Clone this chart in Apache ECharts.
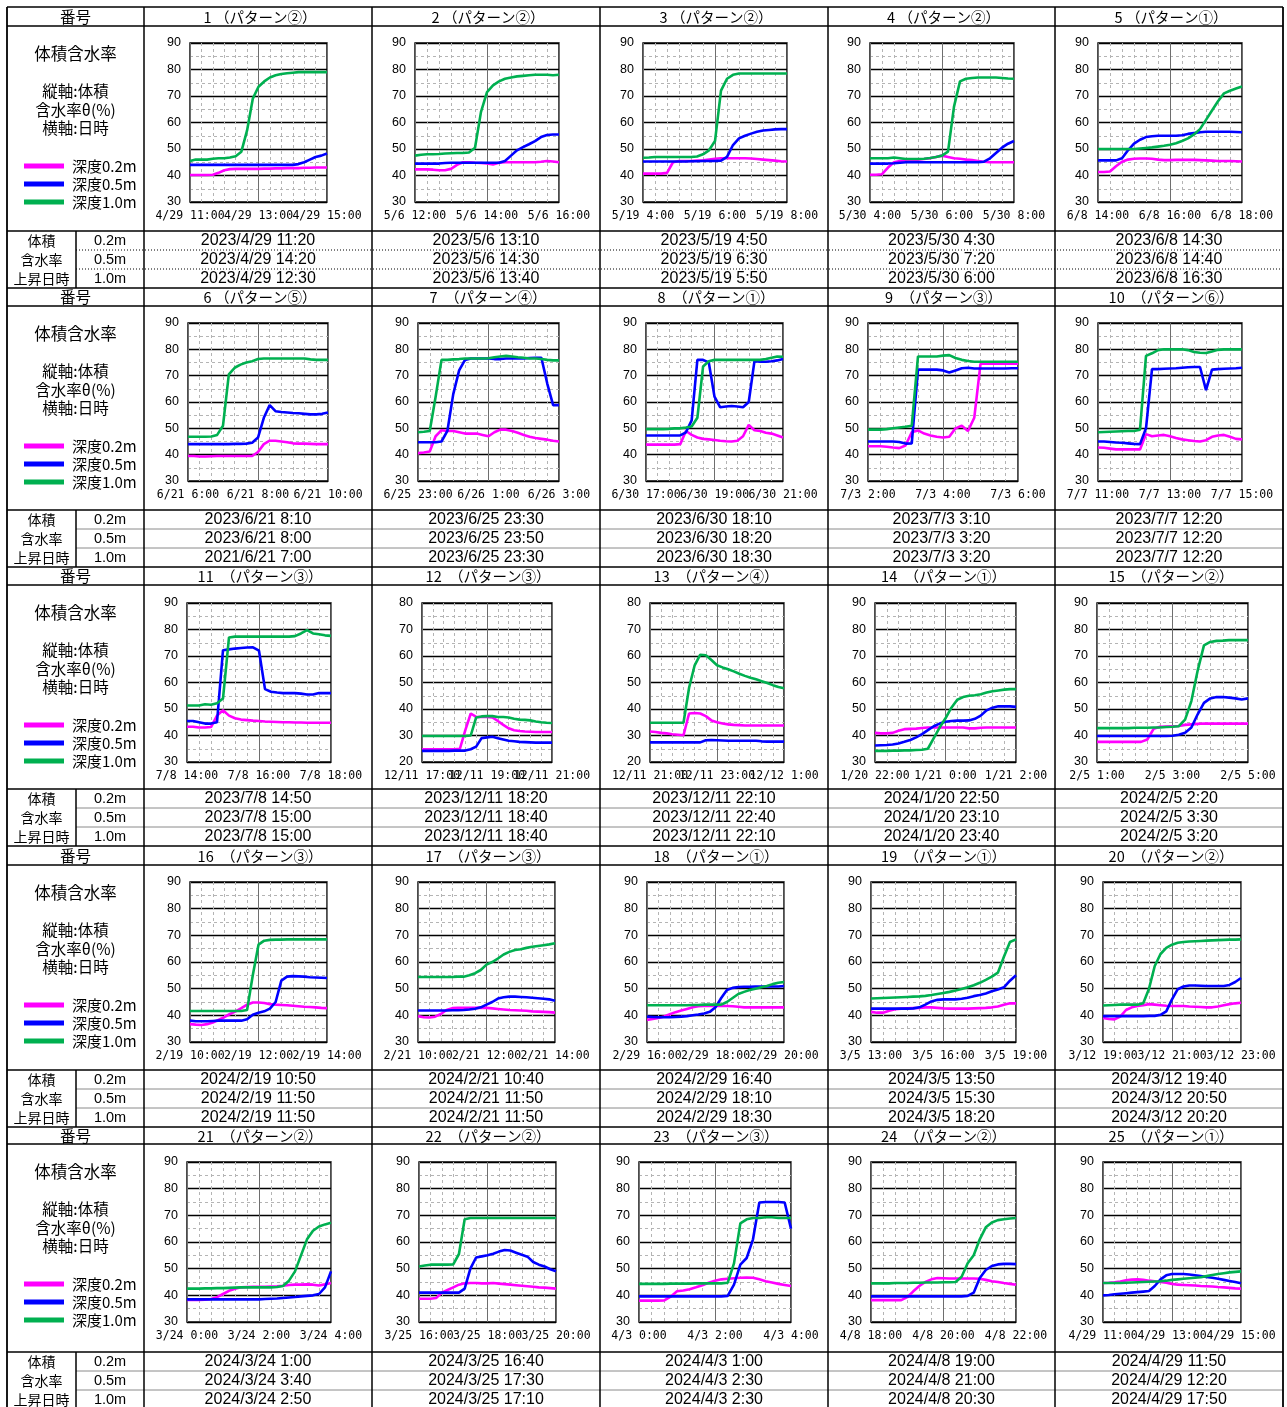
<!DOCTYPE html>
<html>
<head>
<meta charset="utf-8">
<script src="https://cdn.jsdelivr.net/npm/echarts@6/dist/echarts.min.js"></script>
<style>
  html, body { margin: 0; padding: 0; background: #fff; }
  #main { width: 1287px; height: 1407px; }
</style>
</head>
<body>
<div id="main"></div>
<script>
// 体積含水率 (10分 or 15分 間隔で読取り, 25点/グラフ)  _02:深度0.2m _05:深度0.5m _10:深度1.0m
const c01_02 = [40.2,40.2,40.2,40.2,40.3,41,42,42.4,42.5,42.5,42.5,42.5,42.5,42.6,42.6,42.7,42.7,42.8,42.8,42.8,42.9,42.9,43,43,43];
const c01_05 = [44,44,44,44,44,44,44,44,44,44,44,44,44,44,44,44,44,44,44,44.3,45,46,47,47.5,48.3];
const c01_10 = [45.5,46,46,46,46.3,46.5,46.5,46.8,47.3,49,57,69,73.5,75.5,77,77.8,78.3,78.6,78.8,79,79,79,79,79,79];
const c02_02 = [42.3,42.3,42.3,42.2,42,42,42.5,44,45,45,44.8,44.7,44.5,44.2,44.8,45,45,45,45,45,45,45.2,45.5,45.3,45];
const c02_05 = [44.5,44.5,44.5,44.5,44.5,44.7,44.8,44.8,44.8,44.8,44.8,44.8,44.8,44.8,44.8,45.5,47.5,49.5,50.7,51.8,53,54.5,55.3,55.5,55.5];
const c02_10 = [47.5,47.8,48,48,48.1,48.3,48.4,48.5,48.5,48.7,50.5,64,71.5,74,75.5,76.5,77,77.4,77.6,77.8,78,78,78,77.8,78];
const c03_02 = [40.7,40.7,40.7,40.7,41,45,45.5,45.5,45.5,45.6,45.7,46,46.3,46.5,46.5,46.5,46.5,46.5,46.4,46.2,46,45.8,45.6,45.4,45.3];
const c03_05 = [45.3,45.3,45.3,45.3,45.3,45.3,45.3,45.3,45.4,45.4,45.5,45.5,45.5,45.6,47,51.5,54,55,55.8,56.5,57,57.2,57.4,57.5,57.5];
const c03_10 = [46.7,46.8,47,47,47,47,47,47,47,47.2,48,49.5,53,72,76.5,78,78.5,78.5,78.5,78.5,78.5,78.5,78.5,78.5,78.5];
const c04_02 = [40.3,40.3,40.5,43,45,45.5,45.8,46,46,46.2,46.5,47,47.5,47,46.5,46.3,46,45.8,45.5,45.2,45,45,45,45,45];
const c04_05 = [44.5,44.5,44.5,44.5,44.6,44.8,45,45,45,45,45,45,45,45,45,45,45,45,45,45.2,46.5,48.5,50.5,52,53];
const c04_10 = [46.5,46.5,46.5,46.5,46.8,46.5,46.2,46.2,46.2,46.3,46.6,47,47.5,49,66,75.5,76.5,76.8,77,77,77,77,76.8,76.6,76.5];
const c05_02 = [41.3,41.3,41.5,43.5,45.2,46,46.3,46.4,46.4,46.3,46,45.8,45.8,45.9,45.9,45.9,45.9,45.8,45.7,45.6,45.5,45.5,45.5,45.4,45.3];
const c05_05 = [45.7,45.7,45.7,45.7,46.5,49.5,52,53.5,54.5,54.8,55,55,55,55,55.2,55.7,56,56.3,56.5,56.5,56.5,56.5,56.5,56.4,56.3];
const c05_10 = [50,50,50,50,50,50,50,50.2,50.4,50.6,50.9,51.2,51.6,52.2,53,54,55.5,57.5,61,64.5,68,71,72,72.8,73.6];
const c06_02 = [39.5,39.5,39.3,39.3,39.4,39.5,39.5,39.5,39.5,39.5,39.5,39.5,41,44,45.3,45.3,45,44.7,44.3,44.2,44.2,44.1,44,44,44];
const c06_05 = [44,44,44,44,44,44,44,44,44.1,44.1,44.2,44.5,46.5,54,58.8,56.5,56.2,56,55.8,55.7,55.5,55.3,55.3,55.5,56];
const c06_10 = [46.8,46.8,46.8,46.8,46.9,47.5,51,70.5,73,74.2,75,75.5,76.3,76.5,76.5,76.5,76.5,76.5,76.5,76.5,76.5,76.2,76,76,76];
const c07_02 = [40.6,40.8,41.2,47,49.3,49,49,48.5,48,48,48,47.5,47,48.5,49.5,49.5,49,48.3,47.5,46.8,46.3,46,45.7,45.3,45];
const c07_05 = [44.7,44.7,44.7,44.7,45,49,63,72,76,76.5,76.5,76.5,76.5,76.3,76.3,76.5,76.5,76.5,76.5,76.7,76.8,76.8,67,58.8,58.8];
const c07_10 = [48.5,48.7,49,62,76,76,76.2,76.3,76.5,76.5,76.5,76.5,76.6,77,77.3,77.5,77.3,77,76.8,76.5,76.5,76.3,76,75.8,75.8];
const c08_02 = [43.8,43.8,43.8,43.8,43.8,43.8,44,49,47.5,46.5,46,45.8,45.6,45.3,45.1,45,45.3,47,51.3,49.3,49,48.3,48,47.3,46.5];
const c08_05 = [47.3,47.3,47.3,47.3,47.3,47.3,47.3,48.5,53,76,76,75,62,58,58.3,58.5,58.3,58,60,75.5,75.3,75.3,75.5,75.8,76.3];
const c08_10 = [49.7,49.7,49.7,49.7,49.8,50,50,50.3,50.7,54,73.5,75.5,76,76,76,76,76,76,76,76,76,76.3,76.8,77.3,77.2];
const c09_02 = [43.2,43.2,43.2,43,42.7,42.5,43.5,48.5,49.2,48,47.3,46.8,46.5,46.8,50,51,49,54,74.5,74.5,74.5,74.5,74.5,74.5,74.5];
const c09_05 = [45,45,45,45,45,44.8,44.2,44.3,72.3,72.3,72.3,72.3,72,71.2,72,72.8,73,72.7,72.7,72.7,72.7,72.7,72.7,72.8,72.8];
const c09_10 = [49.5,49.5,49.5,49.7,50,50.3,50.6,51,77.3,77.3,77.3,77.3,77.6,77.8,76.7,76,75.6,75.3,75.3,75.3,75.3,75.3,75.3,75.3,75.3];
const c10_02 = [42.7,42.6,42.3,42,42,42,42,42,47.8,47,47.3,47.5,47,46.3,45.8,45.5,45.2,45,45.5,46.8,47.3,47.5,46.8,46,45.8];
const c10_05 = [45,45,44.8,44.6,44.5,44.3,44.1,44,50,72.5,72.5,72.6,72.7,72.8,73,73.2,73.3,73.3,64.5,72.3,72.5,72.6,72.7,72.8,73];
const c10_10 = [48.5,48.6,48.7,48.8,48.9,49,49,49.5,77.5,78.5,79.7,80,80,80,80,79.7,79,78.7,78.6,79.2,79.8,80,80,80,80];
const c11_02 = [43.3,43.3,43,43,43.2,47.5,49.5,47.5,46.5,46,45.8,45.6,45.5,45.3,45.2,45.1,45,45,44.9,44.9,44.8,44.8,44.8,44.8,44.8];
const c11_05 = [45.5,45.5,45,44.5,44.5,45,72.2,72.5,72.8,73,73.2,73.3,72,57.5,56.5,56.2,56,56,56,55.8,55.5,55.5,56,56,56];
const c11_10 = [51.3,51.3,51.3,51.8,51.6,52.2,54,77,77.3,77.3,77.3,77.3,77.3,77.3,77.3,77.3,77.3,77.3,77.5,78.5,79.8,78.5,78.2,77.8,77.6];
const c12_02 = [24.8,24.8,24.8,24.8,24.8,24.8,24.8,25,32,38.3,37,37,37,36.8,35.5,34,32.7,32,31.7,31.5,31.4,31.3,31.3,31.3,31.3];
const c12_05 = [24.2,24.2,24.2,24.2,24.2,24.2,24.3,24.3,24.3,24.8,25.8,29,29.3,29.5,29,28.5,28,27.8,27.6,27.5,27.4,27.3,27.3,27.3,27.3];
const c12_10 = [29.8,29.8,29.8,29.8,29.8,29.8,29.8,29.8,29.8,30,36.8,37.2,37.3,37.3,37,37,36.8,36.3,36,35.9,35.7,35.3,35,34.8,34.7];
const c13_02 = [31.5,31.3,31,30.8,30.5,30.3,30.1,38.3,38.5,38.3,37.3,35.7,35,34.5,34.2,34,33.9,33.8,33.8,33.8,33.8,33.8,33.8,33.8,33.8];
const c13_05 = [27.4,27.4,27.4,27.4,27.4,27.4,27.4,27.4,27.4,27.4,28.2,28.3,28.2,28.1,28,28,28,28,28,28,27.8,27.7,27.7,27.7,27.7];
const c13_10 = [34.8,34.8,34.8,34.8,34.8,34.8,34.8,48,56.5,60.5,60.3,58.5,56.5,55.7,55,54.2,53.3,52.5,51.8,51.2,50.5,49.8,49,48.3,47.8];
const c14_02 = [41,40.8,40.8,41,41.8,42.4,42.5,42.6,42.8,43,43,43,43,43,43,43,42.7,42.7,42.9,43,43,43,43,43,43];
const c14_05 = [36.2,36.3,36.4,36.6,37,37.6,38.3,39.3,40.5,42,43.5,44.5,45.2,45.5,45.6,45.6,45.7,46.3,47.5,49.5,50.5,51,51,51,50.8];
const c14_10 = [34.2,34.2,34.2,34.3,34.3,34.4,34.4,34.5,34.6,35,39,43,46.5,50.5,53.5,54.5,55,55.2,55.6,56.2,56.7,57,57.3,57.5,57.5];
const c15_02 = [37.6,37.6,37.6,37.6,37.6,37.6,37.6,37.6,38.5,42.5,43.3,43.4,43.5,43.6,44,44.2,44.4,44.5,44.5,44.5,44.5,44.5,44.5,44.5,44.5];
const c15_05 = [39.8,39.8,39.8,39.8,39.8,39.8,39.8,39.8,39.8,39.8,39.8,39.8,39.9,40.3,41,43,48,52.3,54,54.5,54.5,54.3,54,53.6,54];
const c15_10 = [42.8,42.8,42.8,42.8,42.8,42.8,42.9,42.9,42.9,43,43,43.2,43.3,43.5,46,53,64.5,74,75.3,75.7,75.8,76,76,76,76];
const c16_02 = [36.7,36.5,36.4,36.7,37.3,38.3,39.3,40.5,41.5,42.7,44,44.8,44.8,44.6,44.2,44,43.9,43.8,43.6,43.4,43.2,43.1,43,42.8,42.7];
const c16_05 = [38,37.8,37.8,37.8,37.9,38,38,38,38,38,38.5,40.2,41,41.5,42.5,45,53,54.5,54.7,54.6,54.5,54.3,54.2,54.1,54];
const c16_10 = [41.6,41.6,41.6,41.6,41.6,41.6,41.6,41.6,41.6,41.6,42,55,66.5,68,68.3,68.4,68.4,68.5,68.5,68.5,68.5,68.5,68.5,68.5,68.5];
const c17_02 = [39.7,39.3,39.2,39.5,40.5,42,42.7,42.8,42.8,42.8,42.8,42.9,42.8,42.6,42.4,42.2,42,41.9,41.8,41.7,41.5,41.4,41.3,41.2,41];
const c17_05 = [41.8,41.8,41.8,41.8,41.8,41.8,41.9,41.9,42,42.2,42.5,43,44,45,46.3,46.8,47,47,46.9,46.8,46.6,46.4,46.2,46,45.5];
const c17_10 = [54.4,54.4,54.4,54.4,54.4,54.4,54.4,54.5,54.5,55,55.8,57,59,60,61.3,62.8,63.8,64.5,64.8,65.3,65.7,66,66.3,66.6,67];
const c18_02 = [38.3,38.6,39,39.6,40.4,41.2,41.8,42.4,43,43.4,43.5,43.5,43.5,43.5,43.5,43.4,43.2,43,43,43,43,43,43,43,43];
const c18_05 = [39.5,39.4,39.3,39.3,39.3,39.4,39.5,39.7,40,40.3,40.7,41.3,43,46.5,49.5,50.3,50.6,50.7,50.7,50.8,50.8,50.8,50.8,50.8,51];
const c18_10 = [43.8,43.8,43.8,43.8,43.8,43.8,43.8,43.8,43.9,43.9,44,44,44,44,45,46.5,48,48.8,49.5,50,50.5,51,51.7,52.2,52.5];
const c19_02 = [41.3,41,41,41.7,42.3,42.5,42.6,42.7,42.8,43,43,42.8,42.6,42.5,42.5,42.5,42.5,42.6,42.7,42.8,43,43.3,44,44.5,44.5];
const c19_05 = [42.5,42.5,42.5,42.5,42.5,42.5,42.5,42.6,43,44,45.2,45.8,46,46,46,46.2,46.6,47.2,47.6,48.2,49,49.7,50.5,53,55];
const c19_10 = [46.3,46.4,46.5,46.6,46.7,46.8,46.9,47,47.1,47.3,47.6,48,48.4,48.8,49.3,49.9,50.5,51.3,52.2,53.3,54.5,56,62,67.5,68.5];
const c20_02 = [39,38.6,38.5,39.5,42,43,43.5,43.8,44.2,44,43.8,43.6,43.5,43.5,43.5,43.3,43.2,43.1,43,43,43.3,43.8,44.2,44.5,44.7];
const c20_05 = [39.7,39.7,39.7,39.7,39.7,39.7,39.7,39.7,39.8,39.8,40.2,41.5,46,49.8,50.8,51.2,51.2,51.1,51,51,51,51,51.4,52.5,54];
const c20_10 = [43.7,43.8,43.9,44,44,44,44,44.5,50,58.5,63,65.3,66.5,67.2,67.5,67.7,67.8,67.9,68,68.1,68.2,68.3,68.4,68.4,68.5];
const c21_02 = [38.3,38.3,38.3,38.4,38.6,39.3,40.5,41.7,42.5,43,43.1,43.2,43.2,43.2,43.3,43.4,43.6,43.9,44,44,44.1,44,43.7,44.1,44.6];
const c21_05 = [38.5,38.5,38.5,38.5,38.5,38.5,38.5,38.5,38.5,38.5,38.5,38.5,38.5,38.6,38.7,38.8,39,39.2,39.4,39.6,39.8,40,40.5,43,49];
const c21_10 = [42.5,42.5,42.5,42.6,42.6,42.7,42.7,42.8,42.9,43,43,43,43,43,43,43.1,43.5,45.5,49,55,61,64.2,65.8,66.6,67.2];
const c22_02 = [38.7,38.7,38.7,39,41,42,43,44,44.5,44.6,44.6,44.5,44.5,44.6,44.4,44.2,44,43.8,43.6,43.4,43.2,43,42.9,42.7,42.5];
const c22_05 = [41,41,41,41,41,41,41,41,42.5,50,54.2,54.6,55,55.6,56.4,57,56.8,56,55.2,54.5,52.5,51.5,50.8,49.8,49];
const c22_10 = [50.8,51.2,51.5,51.5,51.5,51.5,51.6,55.5,68.5,69,69,69,69,69,69,69,69,69,69,69,69,69,69,69,69];
const c23_02 = [38,38,38,38,38.1,39.5,41.5,41.8,42.3,43,43.8,44.7,45.5,46,46.2,46.4,46.6,46.7,46.6,46,45.3,44.8,44.3,43.9,43.5];
const c23_05 = [39.6,39.6,39.6,39.6,39.6,39.6,39.6,39.6,39.6,39.6,39.6,39.6,39.6,39.6,39.8,44,51.5,54,61,74.8,75,75,75,74.8,65];
const c23_10 = [44.3,44.3,44.3,44.3,44.3,44.4,44.4,44.4,44.4,44.5,44.5,44.5,44.5,44.5,44.7,52,67,68.5,69,69,69.3,69.3,69,69,69];
const c24_02 = [38.2,38.2,38.2,38.2,38.2,38.2,39.3,41.5,43.5,45,46,46.5,46.4,46.3,46.3,46.3,46.3,46.3,46.2,45.8,45.3,45,44.6,44.3,44];
const c24_05 = [39.6,39.6,39.6,39.6,39.6,39.6,39.6,39.6,39.6,39.6,39.6,39.6,39.6,39.6,39.6,39.6,39.8,41,46.5,49.5,51,51.6,51.8,51.8,51.7];
const c24_10 = [44.5,44.5,44.5,44.5,44.6,44.6,44.6,44.7,44.7,44.8,44.8,44.8,44.9,44.9,45,47,52,55,61,65.5,67.3,68.2,68.5,68.8,69];
const c25_02 = [44.6,44.7,44.9,45.2,45.6,45.9,46,45.8,45.5,45.3,45,44.7,44.3,44,43.9,43.8,43.7,43.5,43.4,43.3,43.1,43,42.8,42.6,42.5];
const c25_05 = [40,40.1,40.4,40.6,40.8,41,41.2,41.4,41.6,43.5,46,47.5,48,48,48,47.8,47.5,47.2,46.9,46.6,46.2,45.8,45.4,45,44.5];
const c25_10 = [44.6,44.6,44.6,44.6,44.7,44.8,44.9,45,45.1,45.2,45.3,45.5,45.8,46,46.2,46.4,46.6,46.8,47.2,47.6,48,48.3,48.6,48.8,49];

// 横軸ラベル(左端・中央・右端)
const xTicks = [
  ['4/29 11:00','4/29 13:00','4/29 15:00'], ['5/6 12:00','5/6 14:00','5/6 16:00'],
  ['5/19 4:00','5/19 6:00','5/19 8:00'], ['5/30 4:00','5/30 6:00','5/30 8:00'],
  ['6/8 14:00','6/8 16:00','6/8 18:00'], ['6/21 6:00','6/21 8:00','6/21 10:00'],
  ['6/25 23:00','6/26 1:00','6/26 3:00'], ['6/30 17:00','6/30 19:00','6/30 21:00'],
  ['7/3 2:00','7/3 4:00','7/3 6:00'], ['7/7 11:00','7/7 13:00','7/7 15:00'],
  ['7/8 14:00','7/8 16:00','7/8 18:00'], ['12/11 17:00','12/11 19:00','12/11 21:00'],
  ['12/11 21:00','12/11 23:00','12/12 1:00'], ['1/20 22:00','1/21 0:00','1/21 2:00'],
  ['2/5 1:00','2/5 3:00','2/5 5:00'], ['2/19 10:00','2/19 12:00','2/19 14:00'],
  ['2/21 10:00','2/21 12:00','2/21 14:00'], ['2/29 16:00','2/29 18:00','2/29 20:00'],
  ['3/5 13:00','3/5 16:00','3/5 19:00'], ['3/12 19:00','3/12 21:00','3/12 23:00'],
  ['3/24 0:00','3/24 2:00','3/24 4:00'], ['3/25 16:00','3/25 18:00','3/25 20:00'],
  ['4/3 0:00','4/3 2:00','4/3 4:00'], ['4/8 18:00','4/8 20:00','4/8 22:00'],
  ['4/29 11:00','4/29 13:00','4/29 15:00']
];
// 縦軸の範囲
const yMins = [30,30,30,30,30, 30,30,30,30,30, 30,20,20,30,30, 30,30,30,30,30, 30,30,30,30,30];
const yMaxs = [90,90,90,90,90, 90,90,90,90,90, 90,80,80,90,90, 90,90,90,90,90, 90,90,90,90,90];

const titles = [
  '1 （パターン②）','2 （パターン②）','3 （パターン②）','4 （パターン②）','5 （パターン①）',
  '6 （パターン⑤）','7　（パターン④）','8　（パターン①）','9　（パターン③）','10　（パターン⑥）',
  '11　（パターン③）','12　（パターン③）','13　（パターン④）','14　（パターン①）','15　（パターン②）',
  '16　（パターン③）','17　（パターン③）','18　（パターン①）','19　（パターン①）','20　（パターン②）',
  '21　（パターン②）','22　（パターン②）','23　（パターン③）','24　（パターン②）','25　（パターン①）'
];
const rise02 = ['2023/4/29 11:20','2023/5/6 13:10','2023/5/19 4:50','2023/5/30 4:30','2023/6/8 14:30',
  '2023/6/21 8:10','2023/6/25 23:30','2023/6/30 18:10','2023/7/3 3:10','2023/7/7 12:20',
  '2023/7/8 14:50','2023/12/11 18:20','2023/12/11 22:10','2024/1/20 22:50','2024/2/5 2:20',
  '2024/2/19 10:50','2024/2/21 10:40','2024/2/29 16:40','2024/3/5 13:50','2024/3/12 19:40',
  '2024/3/24 1:00','2024/3/25 16:40','2024/4/3 1:00','2024/4/8 19:00','2024/4/29 11:50'];
const rise05 = ['2023/4/29 14:20','2023/5/6 14:30','2023/5/19 6:30','2023/5/30 7:20','2023/6/8 14:40',
  '2023/6/21 8:00','2023/6/25 23:50','2023/6/30 18:20','2023/7/3 3:20','2023/7/7 12:20',
  '2023/7/8 15:00','2023/12/11 18:40','2023/12/11 22:40','2024/1/20 23:10','2024/2/5 3:30',
  '2024/2/19 11:50','2024/2/21 11:50','2024/2/29 18:10','2024/3/5 15:30','2024/3/12 20:50',
  '2024/3/24 3:40','2024/3/25 17:30','2024/4/3 2:30','2024/4/8 21:00','2024/4/29 12:20'];
const rise10 = ['2023/4/29 12:30','2023/5/6 13:40','2023/5/19 5:50','2023/5/30 6:00','2023/6/8 16:30',
  '2021/6/21 7:00','2023/6/25 23:30','2023/6/30 18:30','2023/7/3 3:20','2023/7/7 12:20',
  '2023/7/8 15:00','2023/12/11 18:40','2023/12/11 22:10','2024/1/20 23:40','2024/2/5 3:20',
  '2024/2/19 11:50','2024/2/21 11:50','2024/2/29 18:30','2024/3/5 18:20','2024/3/12 20:20',
  '2024/3/24 2:50','2024/3/25 17:10','2024/4/3 2:30','2024/4/8 20:30','2024/4/29 17:50'];

const depthNames = ['深度0.2m','深度0.5m','深度1.0m'];

const chartData = [
  [c01_02,c01_05,c01_10],[c02_02,c02_05,c02_10],[c03_02,c03_05,c03_10],[c04_02,c04_05,c04_10],[c05_02,c05_05,c05_10],
  [c06_02,c06_05,c06_10],[c07_02,c07_05,c07_10],[c08_02,c08_05,c08_10],[c09_02,c09_05,c09_10],[c10_02,c10_05,c10_10],
  [c11_02,c11_05,c11_10],[c12_02,c12_05,c12_10],[c13_02,c13_05,c13_10],[c14_02,c14_05,c14_10],[c15_02,c15_05,c15_10],
  [c16_02,c16_05,c16_10],[c17_02,c17_05,c17_10],[c18_02,c18_05,c18_10],[c19_02,c19_05,c19_10],[c20_02,c20_05,c20_10],
  [c21_02,c21_05,c21_10],[c22_02,c22_05,c22_10],[c23_02,c23_05,c23_10],[c24_02,c24_05,c24_10],[c25_02,c25_05,c25_10]
];

// ---- レイアウト ----
const lineColors = ['#ff00ff', '#0000ff', '#00b050'];
const colX = [7, 144, 372, 600, 828, 1055, 1283];
const blockTop = [7, 288, 567, 846, 1127];
const headBottom = [26, 306, 585, 865, 1144];
const rowBottom = [231, 510, 789, 1070, 1352];
const plotTB = [[43, 202], [323, 481], [603, 762], [882, 1042], [1162, 1322]];
const plotLR = [
  [190,327],[415,559],[643,787],[870,1014],[1098,1242],
  [188,328],[418,559],[646,783],[868,1018],[1098,1242],
  [187,331],[422,552],[650,784],[875,1016],[1097,1248],
  [190,327],[418,555],[647,784],[871,1016],[1103,1241],
  [187,331],[419,556],[639,791],[871,1016],[1103,1241]
];

const CJK = '"Noto Sans CJK JP", sans-serif';
const SANS = '"Liberation Sans", Arial, sans-serif';
const MONO = '"DejaVu Sans Mono", "Liberation Mono", monospace';
const minorLine = { show: true, lineStyle: { color: '#b4b4b4', width: 1, type: [3, 3] } };

const grids = [], xAxes = [], yAxes = [], series = [], legends = [], elements = [];

chartData.forEach((set, i) => {
  const b = Math.floor(i / 5);
  grids.push({
    left: plotLR[i][0], top: plotTB[b][0],
    width: plotLR[i][1] - plotLR[i][0], height: plotTB[b][1] - plotTB[b][0],
    show: true, borderColor: '#111', borderWidth: 1.5, backgroundColor: 'transparent',
    containLabel: false, outerBoundsMode: 'none'
  });
  // 目盛線用の数値軸 (ラベルなし)
  xAxes.push({
    type: 'value', gridIndex: i, position: 'top', min: 0, max: 24, interval: 12,
    axisLine: { show: false }, axisTick: { show: false }, axisLabel: { show: false },
    splitLine: { show: true, lineStyle: { color: '#6e6e6e', width: 1 } },
    minorTick: { show: false, splitNumber: 6 },
    minorSplitLine: minorLine
  });
  // 日時ラベル用のカテゴリ軸
  const cats = set[0].map((_, j) => (j % 12 === 0 ? xTicks[i][j / 12] : ''));
  xAxes.push({
    type: 'category', gridIndex: i, position: 'bottom', data: cats, boundaryGap: false,
    axisLine: { show: false }, axisTick: { show: false }, splitLine: { show: false },
    axisLabel: { interval: 0, hideOverlap: false, margin: 8, color: '#000', fontFamily: MONO, fontSize: 11.5 }
  });
  yAxes.push({
    type: 'value', gridIndex: i, min: yMins[i], max: yMaxs[i], interval: 10,
    axisLine: { show: false }, axisTick: { show: false },
    axisLabel: { margin: 9, color: '#000', fontFamily: SANS, fontSize: 12.5, hideOverlap: false },
    splitLine: { show: true, lineStyle: { color: '#000', width: 1.4 } },
    minorTick: { show: false, splitNumber: 2 },
    minorSplitLine: minorLine
  });
  set.forEach((vals, k) => {
    series.push({
      name: depthNames[k], type: 'line', xAxisIndex: 2 * i, yAxisIndex: i,
      data: vals.map((v, j) => [j, v]),
      symbol: 'none', showSymbol: false, silent: true, animation: false,
      lineStyle: { width: 2.6, color: lineColors[k] },
      itemStyle: { color: lineColors[k] },
      emphasis: { disabled: true }
    });
  });
});

function txt(x, y, s, font, align) {
  const a = align || 'center';
  return { type: 'text', silent: true, x: x, y: y, z: 10,
    style: { text: s, font: font, fill: '#000', align: a, verticalAlign: 'middle',
             textAlign: a, textVerticalAlign: 'middle' } };
}
function ln(x1, y1, x2, y2, w, color, dash) {
  return { type: 'line', silent: true, z: 5,
    shape: { x1: x1, y1: y1, x2: x2, y2: y2 },
    style: { stroke: color || '#000', lineWidth: w, lineDash: dash || null } };
}

const leftMid = (colX[0] + colX[1]) / 2;
const depthLabels = ['0.2m', '0.5m', '1.0m'];
const rowLabels = ['体積', '含水率', '上昇日時'];
const rises = [rise02, rise05, rise10];

for (let b = 0; b < 5; b++) {
  const hb = headBottom[b], rb = rowBottom[b];
  // 横線
  elements.push(ln(colX[0], blockTop[b], colX[6], blockTop[b], 1.5));
  elements.push(ln(colX[0], hb, colX[6], hb, 1.5));
  elements.push(ln(colX[0], rb, colX[6], rb, 1.5));
  for (let r = 1; r <= 2; r++) {
    if (b === 0) elements.push(ln(76, rb + 19 * r, colX[6], rb + 19 * r, 1, '#000', [1, 2]));
    else elements.push(ln(76, rb + 19 * r, colX[6], rb + 19 * r, 1, '#8a8a8a'));
  }
  elements.push(ln(76, rb, 76, rb + 57, 1.5));
  // 見出し
  elements.push(txt(leftMid, (blockTop[b] + hb) / 2 + 0.5, '番号', '15.5px ' + CJK));
  for (let c = 0; c < 5; c++) {
    const i = b * 5 + c;
    const cx = (colX[c + 1] + colX[c + 2]) / 2;
    elements.push(txt(cx + 2, (blockTop[b] + hb) / 2 + 0.5, titles[i], '14.5px ' + CJK));
    for (let r = 0; r < 3; r++) {
      elements.push(txt(cx, rb + 9.5 + 19 * r + 0.5, rises[r][i], '16px ' + SANS));
    }
  }
  // 左列の説明
  elements.push(txt(leftMid, hb + 28, '体積含水率', '16.5px ' + CJK));
  elements.push(txt(leftMid, hb + 65, '縦軸:体積', '15.5px ' + CJK));
  elements.push(txt(leftMid, hb + 84, '含水率θ(%)', '15.5px ' + CJK));
  elements.push(txt(leftMid, hb + 102, '横軸:日時', '15.5px ' + CJK));
  for (let r = 0; r < 3; r++) {
    elements.push(txt(41.5, rb + 9.5 + 19 * r + 0.5, rowLabels[r], '14px ' + CJK));
    elements.push(txt(110, rb + 9.5 + 19 * r + 0.5, depthLabels[r], '14.5px ' + SANS));
  }
  legends.push({
    orient: 'vertical', left: 24, top: hb + 132.5,
    itemWidth: 40, itemHeight: 5, itemGap: 3, icon: 'rect',
    selectedMode: false, padding: 0,
    data: depthNames,
    textStyle: { fontFamily: CJK, fontSize: 15, color: '#000', padding: [0, 0, 0, 3] }
  });
}
// 縦線と外枠
for (let c = 0; c < colX.length; c++) {
  elements.push(ln(colX[c], colX[0], colX[c], 1420, c === 0 || c === colX.length - 1 ? 1.8 : 1.5));
}

const chart = echarts.init(document.getElementById('main'), null, { renderer: 'canvas' });
chart.setOption({
  animation: false,
  backgroundColor: '#fff',
  textStyle: { fontFamily: SANS },
  grid: grids,
  xAxis: xAxes,
  yAxis: yAxes,
  legend: legends,
  series: series,
  graphic: { elements: elements }
});
</script>
</body>
</html>
